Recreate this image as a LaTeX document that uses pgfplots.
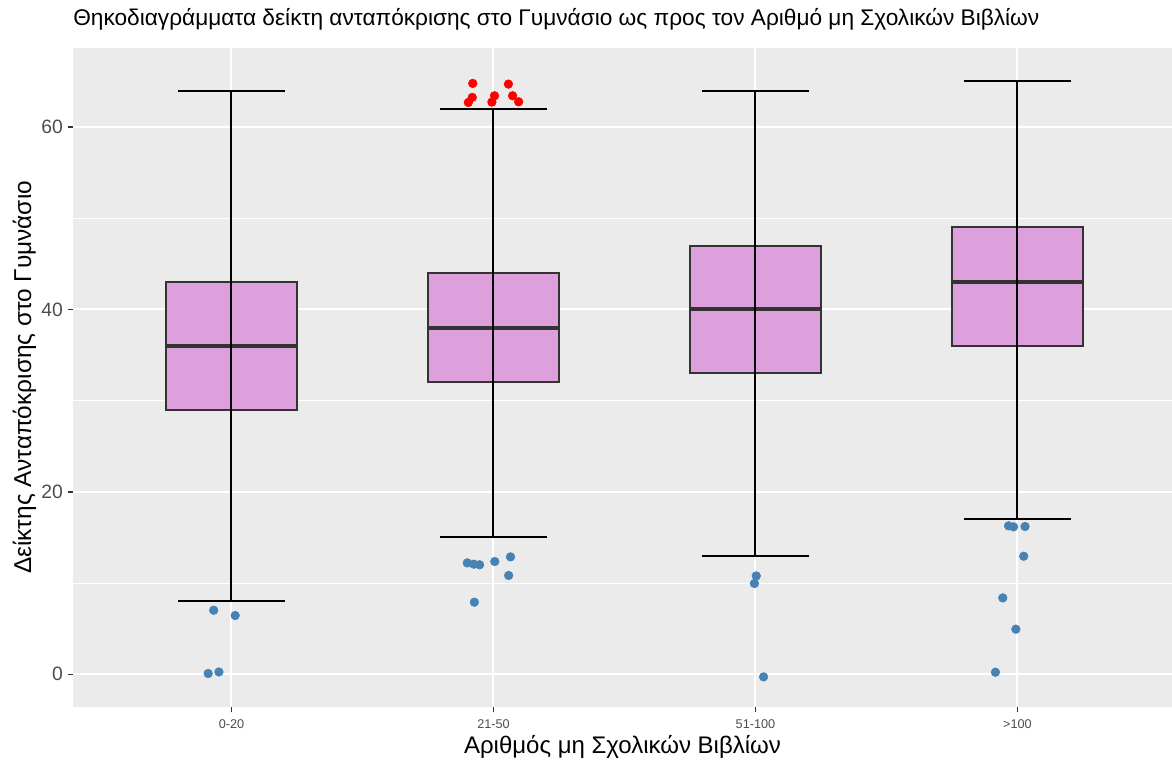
\documentclass[border=0pt]{standalone}
\usepackage{fontspec}
\setmainfont{Liberation Sans}
\usepackage{pgfplots}
\pgfplotsset{compat=1.18}
\usetikzlibrary{calc}
\definecolor{panelbg}{HTML}{EBEBEB}
\definecolor{boxfill}{HTML}{DDA0DD}
\definecolor{boxline}{HTML}{333333}
\definecolor{ticktext}{HTML}{4D4D4D}
\definecolor{steel}{HTML}{4682B4}

\begin{document}
\begin{tikzpicture}
  \begin{axis}[
    scale only axis,
    width=824.25pt, height=494.5pt,
    xmin=0.395, xmax=4.59,
    ymin=-3.6, ymax=68.7,
    axis background/.style={fill=panelbg},
    axis line style={draw=none},
    xtick={1,2,3,4},
    xticklabels={0-20,21-50,51-100,>100},
    ytick={0,20,40,60},
    minor ytick={10,30,50},
    grid=both,
    major grid style={white, line width=1.5pt},
    minor grid style={white, line width=0.75pt},
    tick align=outside,
    major tick length=4pt,
    minor tick length=0pt,
    tick style={boxline, line width=1.1pt},
    xtick pos=bottom, ytick pos=left,
    /pgf/number format/assume math mode=true,
    yticklabel style={font=\fontsize{14.5}{16}\selectfont, text=ticktext},
    xticklabel style={font=\fontsize{9.5}{11}\selectfont, text=ticktext, yshift=-2pt},
    title={Θηκοδιαγράμματα δείκτη ανταπόκρισης στο Γυμνάσιο ως προς τον Αριθμό μη Σχολικών Βιβλίων},
    title style={at={(axis description cs:0,1.0218)}, anchor=base west, font=\fontsize{17}{19}\selectfont, inner sep=0pt},
    xlabel={Αριθμός μη Σχολικών Βιβλίων},
    xlabel style={at={(axis description cs:0.5,-0.0705)}, anchor=base, font=\fontsize{18}{20}\selectfont, inner sep=0pt},
    ylabel={Δείκτης Ανταπόκρισης στο Γυμνάσιο},
    ylabel style={at={(axis description cs:-0.0382,0.5)}, anchor=base, font=\fontsize{18.3}{20}\selectfont, inner sep=0pt},
    boxst/.style={draw=boxline, fill=boxfill, line width=1.5pt},
    medst/.style={boxline, line width=3pt},
  ]
    \coordinate (pSW) at (rel axis cs:0,0);
    \coordinate (pNE) at (rel axis cs:1,1);

    % boxes: lower quartile to upper quartile, half-width 0.25
    \addplot[boxst] coordinates {(0.75,29) (1.25,29) (1.25,43) (0.75,43)} -- cycle;
    \addplot[boxst] coordinates {(1.75,32) (2.25,32) (2.25,44) (1.75,44)} -- cycle;
    \addplot[boxst] coordinates {(2.75,33) (3.25,33) (3.25,47) (2.75,47)} -- cycle;
    \addplot[boxst] coordinates {(3.75,36) (4.25,36) (4.25,49) (3.75,49)} -- cycle;

    % medians
    \addplot[medst] coordinates {(0.75,36) (1.25,36)};
    \addplot[medst] coordinates {(1.75,38) (2.25,38)};
    \addplot[medst] coordinates {(2.75,40) (3.25,40)};
    \addplot[medst] coordinates {(3.75,43) (4.25,43)};

    % whiskers: errorbars from lower to upper whisker, centred on median
    \addplot[draw=none, mark=none,
      error bars/.cd, y dir=both, y explicit,
      error bar style={draw=black, line width=1.5pt},
      error mark=|,
      error mark options={draw=black, mark size=40pt, line width=1.5pt}]
      coordinates {
        (1,36) += (0,28) -= (0,28)
        (2,38) += (0,24) -= (0,23)
        (3,40) += (0,24) -= (0,27)
        (4,43) += (0,22) -= (0,26)
      };

    % low outliers
    \addplot[only marks, mark=*, mark size=3.25pt, steel, mark options={draw=steel, fill=steel}]
      coordinates {
        (0.932,7.02) (1.014,6.44) (0.911,0.08) (0.952,0.25)
        (1.900,12.21) (1.925,12.07) (1.947,12.00) (2.005,12.36) (2.065,12.87) (2.058,10.83) (1.927,7.90)
        (3.003,10.78) (2.996,9.95) (3.031,-0.29)
        (3.966,16.27) (3.985,16.16) (4.029,16.20) (4.024,12.94) (3.944,8.37) (3.994,4.94) (3.916,0.22)
      };

    % high outliers
    \addplot[only marks, mark=*, mark size=3.25pt, red, mark options={draw=red, fill=red}]
      coordinates {
        (1.921,64.79) (1.919,63.25) (1.904,62.70) (2.004,63.43)
        (1.994,62.74) (2.057,64.71) (2.073,63.43) (2.096,62.77)
      };
  \end{axis}
  \pgfresetboundingbox
  \path ($(pSW)+(-54.75pt,-41.25pt)$) rectangle ($(pNE)+(0pt,35.8pt)$);
\end{tikzpicture}
\end{document}
